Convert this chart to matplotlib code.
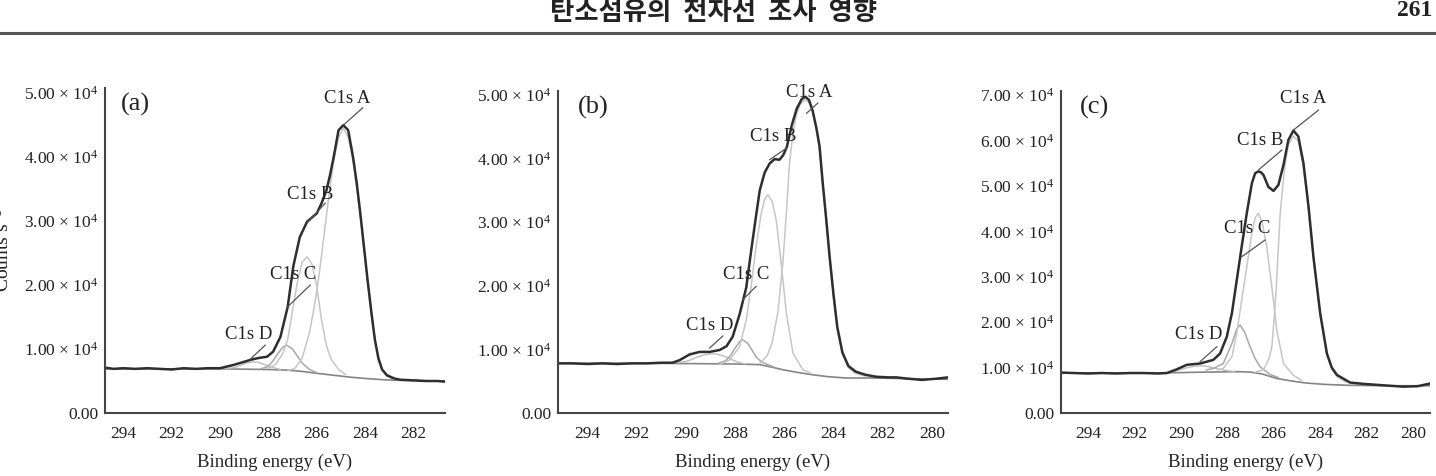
import matplotlib
matplotlib.use("Agg")
import matplotlib.pyplot as plt
from matplotlib.lines import Line2D

plt.rcParams['font.family'] = ['Liberation Serif', 'DejaVu Serif']
plt.rcParams['mathtext.fontset'] = 'custom'
plt.rcParams['mathtext.rm'] = 'Liberation Serif'
plt.rcParams['mathtext.it'] = 'Liberation Serif'

# ---- panel (a) ----
env_a_e = [294.75, 294.4, 294.0, 293.5, 293.0, 292.5, 292.0, 291.5, 291.0, 290.5, 290.0,
           289.45, 289.0, 288.75, 288.4, 288.05, 287.8, 287.5, 287.2, 286.97, 286.7, 286.4,
           286.0, 285.8, 285.6, 285.45, 285.3, 285.1, 284.9, 284.7, 284.5, 284.35, 284.2,
           284.05, 283.9, 283.75, 283.6, 283.45, 283.3, 283.1, 282.8, 282.55, 282.0, 281.5,
           281.0, 280.7]
env_a = [0.71, 0.69, 0.70, 0.69, 0.70, 0.69, 0.68, 0.70, 0.69, 0.70, 0.70,
         0.75, 0.80, 0.83, 0.86, 0.88, 0.96, 1.19, 1.66, 2.29, 2.75, 2.99,
         3.12, 3.28, 3.48, 3.72, 4.00, 4.42, 4.50, 4.42, 4.00, 3.60, 3.12,
         2.60, 2.08, 1.60, 1.15, 0.85, 0.68, 0.59, 0.54, 0.52, 0.51, 0.50,
         0.50, 0.49]
A_a_e = [287.2, 286.9, 286.6, 286.3, 286.1, 285.9, 285.7, 285.5, 285.3, 285.1, 284.9,
         284.7, 284.5, 284.3, 284.1, 283.9, 283.7, 283.5, 283.3, 283.1, 282.8]
A_a = [0.66, 0.70, 0.86, 1.26, 1.66, 2.17, 2.77, 3.39, 3.94, 4.31, 4.45,
       4.31, 3.94, 3.39, 2.77, 2.05, 1.40, 0.95, 0.68, 0.57, 0.53]
B_a_e = [288.0, 287.7, 287.4, 287.2, 287.0, 286.8, 286.6, 286.4, 286.2, 286.0, 285.8,
         285.6, 285.4, 285.1, 284.8]
B_a = [0.70, 0.76, 0.93, 1.15, 1.60, 2.05, 2.36, 2.44, 2.33, 1.98, 1.45,
       1.05, 0.84, 0.68, 0.60]
C_a_e = [288.3, 288.0, 287.8, 287.6, 287.4, 287.24, 287.0, 286.8, 286.6, 286.3, 286.0]
C_a = [0.69, 0.73, 0.82, 0.93, 1.03, 1.06, 1.00, 0.89, 0.78, 0.68, 0.63]
D_a_e = [289.8, 289.4, 289.1, 288.9, 288.62, 288.4, 288.1, 287.8, 287.5]
D_a = [0.69, 0.71, 0.75, 0.78, 0.80, 0.79, 0.75, 0.71, 0.68]
base_a_e = [294.75, 290.0, 288.0, 287.2, 286.6, 286.0, 285.3, 284.62, 284.0, 283.24, 282.5, 280.7]
base_a = [0.69, 0.69, 0.68, 0.67, 0.65, 0.62, 0.59, 0.56, 0.54, 0.52, 0.51, 0.50]

# ---- panel (b) ----
env_b_e = [295.2, 294.6, 294.0, 293.4, 292.8, 292.2, 291.6, 291.0, 290.55, 290.26, 289.85,
           289.45, 289.04, 288.63, 288.35, 288.1, 287.82, 287.55, 287.35, 287.15, 287.0,
           286.8, 286.6, 286.4, 286.2, 286.05, 285.9, 285.7, 285.5, 285.3, 285.15, 285.0,
           284.85, 284.7, 284.57, 284.45, 284.3, 284.16, 284.0, 283.85, 283.64, 283.4,
           283.1, 282.7, 282.27, 281.8, 281.45, 281.0, 280.4, 279.8, 279.35]
env_b = [0.78, 0.78, 0.77, 0.78, 0.77, 0.78, 0.78, 0.79, 0.79, 0.83, 0.92,
         0.96, 0.96, 0.99, 1.05, 1.20, 1.55, 1.97, 2.55, 3.10, 3.50,
         3.78, 3.92, 3.99, 3.98, 4.05, 4.18, 4.52, 4.78, 4.93, 4.97, 4.92,
         4.75, 4.48, 4.19, 3.65, 3.05, 2.45, 1.85, 1.35, 0.95, 0.74,
         0.65, 0.60, 0.57, 0.56, 0.56, 0.54, 0.52, 0.54, 0.56]
A_b_e = [287.0, 286.7, 286.5, 286.27, 286.06, 285.92, 285.79, 285.65, 285.5, 285.35, 285.15,
         285.0, 284.85, 284.7, 284.57, 284.45, 284.3, 284.16, 284.0, 283.85, 283.64, 283.4,
         283.1, 282.7]
A_b = [0.78, 0.90, 1.10, 1.57, 2.36, 3.14, 3.93, 4.40, 4.70, 4.86, 4.92,
       4.88, 4.72, 4.45, 4.15, 3.62, 3.02, 2.42, 1.82, 1.32, 0.92, 0.71,
       0.62, 0.58]
B_b_e = [288.6, 288.23, 287.82, 287.55, 287.35, 287.15, 286.94, 286.8, 286.67, 286.5, 286.33,
         286.13, 285.92, 285.65, 285.25, 284.9]
B_b = [0.77, 0.83, 1.04, 1.46, 1.99, 2.62, 3.14, 3.36, 3.43, 3.33, 3.03,
       2.36, 1.57, 0.94, 0.68, 0.62]
C_b_e = [288.7, 288.4, 288.23, 288.0, 287.8, 287.69, 287.5, 287.3, 287.15, 286.95, 286.74, 286.4]
C_b = [0.78, 0.82, 0.88, 1.02, 1.13, 1.15, 1.10, 0.98, 0.88, 0.81, 0.77, 0.72]
D_b_e = [290.3, 289.9, 289.6, 289.3, 289.0, 288.8, 288.5, 288.2, 287.9, 287.6]
D_b = [0.79, 0.82, 0.87, 0.91, 0.93, 0.93, 0.90, 0.85, 0.80, 0.77]
base_b_e = [295.2, 291.0, 288.0, 287.0, 286.5, 286.06, 285.5, 284.84, 284.2, 283.5, 282.5, 281.0, 279.35]
base_b = [0.78, 0.78, 0.77, 0.76, 0.72, 0.68, 0.64, 0.60, 0.57, 0.55, 0.55, 0.54, 0.53]

# ---- panel (c) ----
env_c_e = [295.16, 294.6, 294.0, 293.4, 292.8, 292.2, 291.6, 291.0, 290.6, 290.18, 289.75,
           289.17, 288.6, 288.31, 288.02, 287.8, 287.59, 287.38, 287.16, 286.94, 286.8,
           286.66, 286.55, 286.44, 286.23, 286.01, 285.8, 285.58, 285.37, 285.15, 284.94,
           284.72, 284.5, 284.29, 284.0, 283.71, 283.5, 283.28, 282.71, 282.1, 281.56,
           281.0, 280.41, 279.8, 279.26]
env_c = [0.89, 0.88, 0.87, 0.88, 0.87, 0.88, 0.88, 0.87, 0.88, 0.96, 1.06,
         1.09, 1.17, 1.31, 1.68, 2.20, 2.93, 3.66, 4.40, 5.06, 5.28,
         5.32, 5.30, 5.24, 4.98, 4.89, 5.02, 5.46, 6.01, 6.22, 6.09,
         5.50, 4.54, 3.44, 2.20, 1.31, 1.00, 0.84, 0.67, 0.64, 0.62,
         0.60, 0.58, 0.59, 0.65]
A_c_e = [286.8, 286.44, 286.2, 286.08, 285.97, 285.87, 285.8, 285.72, 285.6, 285.5, 285.37,
         285.15, 284.94, 284.72, 284.5, 284.29, 284.0, 283.71, 283.5, 283.28, 282.9]
A_c = [0.90, 0.95, 1.20, 1.46, 2.15, 2.93, 3.65, 4.40, 5.05, 5.50, 5.90,
       6.10, 5.98, 5.42, 4.48, 3.40, 2.16, 1.28, 0.97, 0.80, 0.68]
B_c_e = [288.4, 288.17, 287.8, 287.59, 287.38, 287.16, 286.94, 286.8, 286.66, 286.5, 286.3,
         286.08, 285.87, 285.58, 285.15, 284.8]
B_c = [0.95, 0.98, 1.24, 1.76, 2.49, 3.22, 3.96, 4.30, 4.40, 4.20, 3.66,
       2.78, 1.83, 1.09, 0.83, 0.72]
C_c_e = [288.9, 288.6, 288.17, 287.8, 287.6, 287.45, 287.25, 287.02, 286.8, 286.59, 286.16, 285.8]
C_c = [0.95, 0.98, 1.09, 1.53, 1.84, 1.94, 1.78, 1.46, 1.20, 1.02, 0.85, 0.78]
D_c_e = [290.6, 290.2, 289.8, 289.4, 289.1, 288.8, 288.5, 288.1, 287.7]
D_c = [0.88, 0.93, 0.99, 1.03, 1.04, 1.02, 0.98, 0.94, 0.91]
base_c_e = [295.16, 291.0, 289.0, 287.5, 287.0, 286.5, 285.87, 285.3, 284.6, 283.8, 282.8, 281.0, 279.26]
base_c = [0.88, 0.88, 0.90, 0.91, 0.90, 0.86, 0.76, 0.71, 0.66, 0.63, 0.61, 0.60, 0.60]

# peak labels: (text x, text y, line start x, y, line end x, y), units of 1e4 counts
lab_names = ['C1s A', 'C1s B', 'C1s C', 'C1s D']
lab_a = [(284.74, 4.92, 284.1, 4.77, 284.9, 4.50),
         (286.27, 3.41, 285.65, 3.28, 286.4, 2.97),
         (286.97, 2.17, 286.27, 2.00, 287.2, 1.66),
         (288.83, 1.22, 288.13, 1.06, 288.75, 0.84)]
lab_b = [(284.98, 5.03, 284.64, 4.87, 285.1, 4.71),
         (286.46, 4.34, 285.92, 4.16, 286.6, 3.98),
         (287.55, 2.17, 287.15, 1.99, 287.69, 1.78),
         (289.04, 1.38, 288.5, 1.21, 289.04, 1.02)]
lab_c = [(284.72, 6.93, 284.07, 6.67, 285.15, 6.23),
         (286.59, 6.01, 285.65, 5.79, 286.66, 5.35),
         (287.16, 4.07, 286.37, 3.81, 287.38, 3.44),
         (289.25, 1.72, 288.45, 1.46, 289.17, 1.13)]

ticks_a = [294, 292, 290, 288, 286, 284, 282]
ticks_bc = [294, 292, 290, 288, 286, 284, 282, 280]
yt_a = [0, 1, 2, 3, 4, 5]
yt_c = [0, 1, 2, 3, 4, 5, 6, 7]

W, H = 1436, 476
fig = plt.figure(figsize=(W / 100, H / 100), dpi=100)


def ylab(v):
    if v == 0:
        return '0.00'
    return '%.2f × 10$^{4}$' % v


def panel(rect, xlim, ylim, xt, yt, tag, curves, labels):
    l, t, w, h = rect
    ax = fig.add_axes([l / W, 1 - (t + h) / H, w / W, h / H])
    env_e, env, A_e, A, B_e, B, C_e, C, D_e, D, bs_e, bs = curves
    ax.plot(bs_e, bs, color='#858585', lw=1.2)
    ax.plot(D_e, D, color='#bdbdbd', lw=1.0)
    ax.plot(C_e, C, color='#a8a8a8', lw=1.1)
    ax.plot(B_e, B, color='#c6c6c6', lw=1.1)
    ax.plot(A_e, A, color='#c6c6c6', lw=1.1)
    ax.plot(env_e, env, color='#2e2e2e', lw=1.8)
    for name, (tx, ty, x0, y0, x1, y1) in zip(lab_names, labels):
        ax.text(tx, ty, name, fontsize=13.5, ha='center', va='center', color='#222', clip_on=False)
        ax.plot([x0, x1], [y0, y1], color='#555', lw=0.9, clip_on=False)
    ax.set_xlim(*xlim)
    ax.set_ylim(*ylim)
    ax.set_xticks(xt)
    ax.set_yticks(yt)
    ax.set_yticklabels([ylab(v) for v in yt])
    ax.tick_params(axis='both', length=0, labelsize=12.5, colors='#222')
    ax.tick_params(axis='x', pad=9)
    ax.tick_params(axis='y', pad=5)
    for s in ['top', 'right']:
        ax.spines[s].set_visible(False)
    for s in ['left', 'bottom']:
        ax.spines[s].set_color('#444')
        ax.spines[s].set_linewidth(1.5)
    ax.set_xlabel('Binding energy (eV)', fontsize=13.5, labelpad=9, color='#222')
    ax.text(0.09, 0.95, tag, transform=ax.transAxes, fontsize=19, ha='center', va='center', color='#222')
    return ax


panel((105, 88, 340, 325), (294.75, 280.7), (0, 5.08), ticks_a, yt_a, '(a)',
      (env_a_e, env_a, A_a_e, A_a, B_a_e, B_a, C_a_e, C_a, D_a_e, D_a, base_a_e, base_a), lab_a)
panel((558, 91, 390, 322), (295.2, 279.35), (0, 5.06), ticks_bc, yt_a, '(b)',
      (env_b_e, env_b, A_b_e, A_b, B_b_e, B_b, C_b_e, C_b, D_b_e, D_b, base_b_e, base_b), lab_b)
panel((1061, 91, 369, 322), (295.16, 279.27), (0, 7.09), ticks_bc, yt_c, '(c)',
      (env_c_e, env_c, A_c_e, A_c, B_c_e, B_c, C_c_e, C_c, D_c_e, D_c, base_c_e, base_c), lab_c)

fig.text(2 / W, 1 - 250 / H, 'Counts s$^{-1}$', rotation=90, fontsize=14, ha='center', va='center', color='#222')

# page header
fig.text(713 / W, 1 - 12 / H, '탄소섬유의  전자선  조사  영향', fontsize=19, fontweight='bold',
         family=['Noto Sans CJK KR', 'DejaVu Sans'], ha='center', va='center', color='#222')
fig.text(1397 / W, 1 - 11 / H, '261', fontsize=17, fontweight='bold', ha='left', va='center', color='#222')
fig.add_artist(Line2D([0, 1], [1 - 33 / H, 1 - 33 / H], transform=fig.transFigure, color='#555', lw=2.2))

fig.savefig('out.png', dpi=100)
